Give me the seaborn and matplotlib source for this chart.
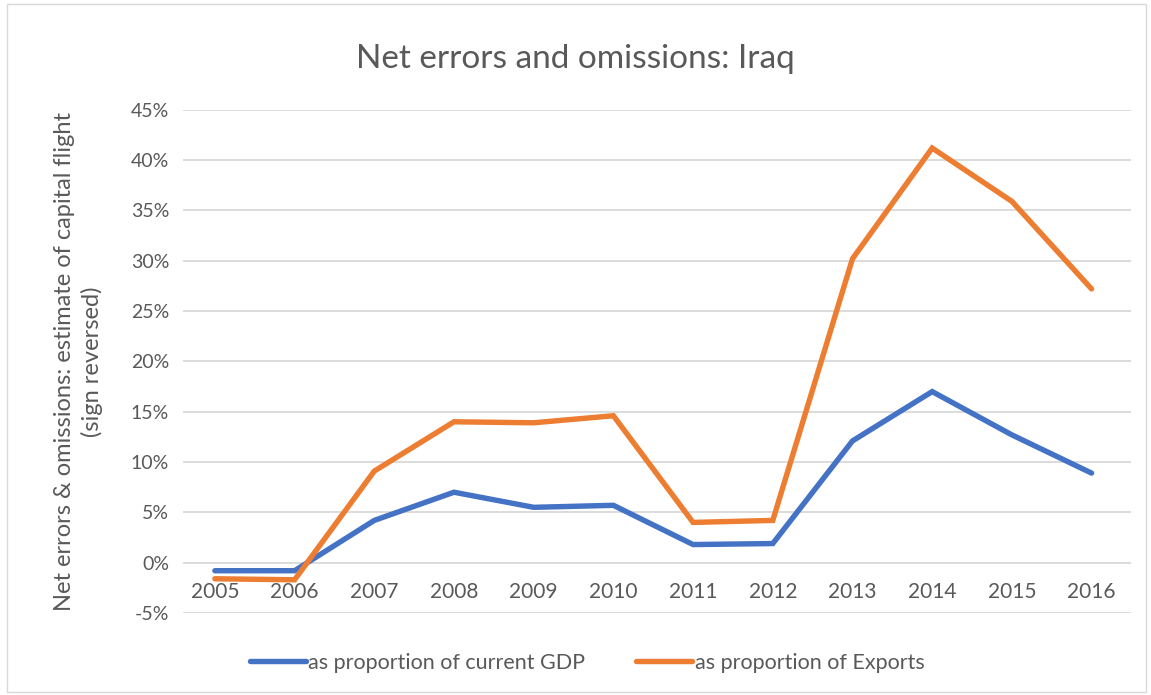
import pandas as pd
import numpy as np
import matplotlib.pyplot as plt
import seaborn as sns
from matplotlib.patches import Rectangle
from matplotlib.ticker import PercentFormatter

# Datos (en %)
years = ['2005', '2006', '2007', '2008', '2009', '2010',
         '2011', '2012', '2013', '2014', '2015', '2016']
gdp_share = [-0.8, -0.8, 4.2, 7.0, 5.5, 5.7, 1.8, 1.9, 12.1, 17.0, 12.7, 8.9]
exports_share = [-1.6, -1.7, 9.1, 14.0, 13.9, 14.6, 4.0, 4.2, 30.2, 41.2, 35.9, 27.2]
series_names = ['as proportion of current GDP', 'as proportion of Exports']
y_ticks = list(range(-5, 50, 5))

df = pd.DataFrame({
    'year': years * 2,
    'value': gdp_share + exports_share,
    'series': [series_names[0]] * len(years) + [series_names[1]] * len(years),
})
df['pos'] = df.groupby('series').cumcount()

sns.set_style('white')
plt.rcParams['font.family'] = ['Lato', 'DejaVu Sans']
plt.rcParams['axes.unicode_minus'] = False
text_col = '#595959'

fig = plt.figure(figsize=(11.51, 6.95), dpi=100)
ax = fig.add_axes([0.159, 0.118, 0.824, 0.724])

sns.lineplot(data=df, x='pos', y='value', hue='series', ax=ax,
             palette=['#4472C4', '#ED7D31'], linewidth=3.9,
             solid_capstyle='round', solid_joinstyle='miter')

ax.set_xlim(-0.4, 11.5)
ax.set_ylim(-5, 45)
ax.set_yticks(y_ticks)
ax.yaxis.set_major_formatter(PercentFormatter(decimals=0))
ax.grid(axis='y', color='#d9d9d9', linewidth=1.3)
ax.set_axisbelow(True)

ax.set_xticks(range(len(years)))
ax.set_xticklabels(years)
ax.spines['bottom'].set_position(('data', 0))
for s in ax.spines.values():
    s.set_visible(False)
ax.tick_params(axis='x', length=0, pad=14, labelsize=15, colors=text_col)
ax.tick_params(axis='y', length=0, pad=10, labelsize=14, colors=text_col)

ax.set_xlabel('')
ax.set_ylabel('Net errors & omissions: estimate of capital flight\n(sign reversed)',
              fontsize=17, color=text_col, labelpad=20, linespacing=1.35)

fig.suptitle('Net errors and omissions: Iraq', y=0.937, fontsize=24, color=text_col)

handles, labels = ax.get_legend_handles_labels()
fig.legend(handles, labels, loc='center', bbox_to_anchor=(0.51, 0.046),
           ncol=2, frameon=False, fontsize=15.5, labelcolor=text_col,
           handlelength=2.6, handletextpad=0.1, columnspacing=2.4)
ax.get_legend().remove()

fig.patches.append(Rectangle((0.006, 0.004), 0.99, 0.99, transform=fig.transFigure,
                             fill=False, edgecolor='#d9d9d9', linewidth=1))

plt.savefig('out.png', dpi=100)
